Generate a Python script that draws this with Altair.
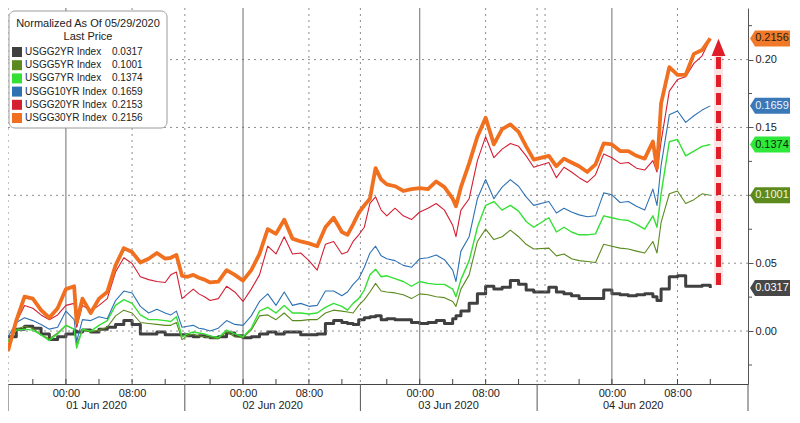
import altair as alt
import pandas as pd

FONT = "Liberation Sans"

# ---------------- data ----------------
# hours from 01 Jun 2020 00:00
hours = [-7, -6, -5, -4, -3, -2, -1, 0, 1, 1.3, 2, 3, 4, 5, 6, 7, 8, 9, 10, 11, 12, 13, 14,
         15, 16, 17, 18, 19, 20, 21, 22, 23, 24, 25,
         26, 27, 28, 29, 30, 31, 32, 33, 34, 35, 36,
         37, 38, 39, 40, 41, 42, 43, 44, 45, 46, 47, 48, 49, 50, 51, 52, 52.4,
         53, 54, 55, 56, 57, 58, 59, 60, 61, 62,
         64, 65, 66, 67, 68, 69, 70, 71, 72, 73, 74, 75, 76, 77, 77.5,
         78, 79, 80, 81, 82, 83, 84]

names = ["USGG2YR Index", "USGG5YR Index", "USGG7YR Index",
         "USGG10YR Index", "USGG20YR Index", "USGG30YR Index"]
last_price = ["0.0317", "0.1001", "0.1374", "0.1659", "0.2153", "0.2156"]
colors = ["#404040", "#5b8a1e", "#33e033", "#2f72b4", "#d41f33", "#f07020"]
line_widths = [3.0, 1.1, 1.4, 1.1, 1.1, 3.8]
step_series = ["USGG2YR Index"]

usgg2 = [-0.0042, 0.0014, 0.0035, 0.0021, -0.0021, -0.0063, -0.0042, -0.0021, 0.0000,
         -0.0007,
         0.0007, -0.0007, 0.0014, 0.0028, 0.0049, 0.0077, 0.0049, -0.0021, -0.0021, -0.0007, -0.0028, -0.0028, -0.0028,
         -0.0028, -0.0035, -0.0042, -0.0035, -0.0042, -0.0049, -0.0042, -0.0014, -0.0035, -0.0049, -0.0042,
         -0.0021, -0.0007, -0.0021, -0.0007, -0.0007, -0.0028, -0.0028, -0.0021, 0.0056, 0.0077, 0.0063,
         0.0056, 0.0049, 0.0084, 0.0098, 0.0105, 0.0112, 0.0084, 0.0091, 0.0084, 0.0084, 0.0063, 0.0056, 0.0063, 0.0077, 0.0056, 0.0091,
         0.0112,
         0.0147, 0.0204, 0.0274, 0.0330, 0.0309, 0.0323, 0.0372, 0.0344, 0.0302, 0.0288,
         0.0323, 0.0288, 0.0274, 0.0260, 0.0239, 0.0239, 0.0239, 0.0302, 0.0274, 0.0267, 0.0260, 0.0267, 0.0274, 0.0253,
         0.0225,
         0.0309, 0.0400, 0.0407, 0.0330, 0.0330, 0.0337, 0.0317]

usgg5 = [-0.0077, 0.0014, 0.0035, 0.0021, -0.0028, -0.0056, -0.0014, 0.0042, 0.0014,
         -0.0098,
         0.0007, -0.0007, 0.0007, 0.0028, 0.0112, 0.0154, 0.0133, 0.0063, 0.0056, 0.0049, 0.0042, 0.0042, 0.0063,
         -0.0063, -0.0035, -0.0021, -0.0035, -0.0042, -0.0049, -0.0056, -0.0007, -0.0042, -0.0049, 0.0007,
         0.0112, 0.0119, 0.0084, 0.0133, 0.0077, 0.0077, 0.0084, 0.0084, 0.0133, 0.0154, 0.0147,
         0.0140, 0.0133, 0.0189, 0.0232, 0.0288, 0.0351, 0.0295, 0.0288, 0.0281, 0.0267, 0.0239, 0.0274, 0.0267, 0.0253, 0.0246, 0.0218,
         0.0182,
         0.0309, 0.0414, 0.0660, 0.0751, 0.0674, 0.0695, 0.0744, 0.0695, 0.0639, 0.0604,
         0.0611, 0.0554, 0.0568, 0.0533, 0.0519, 0.0512, 0.0505, 0.0639, 0.0625, 0.0611, 0.0604, 0.0589, 0.0575, 0.0660,
         0.0575,
         0.0800, 0.1011, 0.1032, 0.0940, 0.0968, 0.1011, 0.1001]

usgg7 = [-0.0077, 0.0007, 0.0014, 0.0007, -0.0028, -0.0070, -0.0021, 0.0042, 0.0014,
         -0.0126,
         0.0014, 0.0000, 0.0042, 0.0077, 0.0189, 0.0232, 0.0204, 0.0119, 0.0084, 0.0084, 0.0077, 0.0070, 0.0105,
         -0.0042, -0.0021, -0.0007, -0.0014, -0.0021, -0.0035, -0.0049, 0.0007, -0.0021, -0.0042, 0.0021,
         0.0147, 0.0175, 0.0133, 0.0189, 0.0133, 0.0133, 0.0126, 0.0133, 0.0175, 0.0204, 0.0182,
         0.0154, 0.0204, 0.0239, 0.0302, 0.0414, 0.0456, 0.0400, 0.0407, 0.0386, 0.0365, 0.0330, 0.0365, 0.0351, 0.0344, 0.0344, 0.0309,
         0.0253,
         0.0379, 0.0519, 0.0765, 0.0926, 0.0954, 0.0891, 0.0926, 0.0884, 0.0807, 0.0765,
         0.0835, 0.0730, 0.0765, 0.0730, 0.0709, 0.0709, 0.0716, 0.0849, 0.0835, 0.0821, 0.0814, 0.0786, 0.0751, 0.0849,
         0.0765,
         0.1011, 0.1396, 0.1411, 0.1291, 0.1326, 0.1361, 0.1374]

usgg10 = [-0.0042, 0.0063, 0.0098, 0.0077, 0.0049, 0.0014, 0.0028, 0.0147, 0.0084,
          -0.0077,
          0.0084, 0.0077, 0.0105, 0.0091, 0.0225, 0.0295, 0.0281, 0.0182, 0.0133, 0.0161, 0.0133, 0.0119, 0.0147,
          0.0028, 0.0035, 0.0042, 0.0021, 0.0014, 0.0000, 0.0021, 0.0077, 0.0049, 0.0042, 0.0112,
          0.0218, 0.0274, 0.0189, 0.0288, 0.0189, 0.0204, 0.0182, 0.0189, 0.0295, 0.0295, 0.0260,
          0.0288, 0.0344, 0.0386, 0.0470, 0.0575, 0.0625, 0.0554, 0.0533, 0.0519, 0.0484, 0.0470, 0.0533, 0.0540, 0.0561, 0.0526, 0.0449,
          0.0365,
          0.0589, 0.0695, 0.0975, 0.1116, 0.0975, 0.1060, 0.1116, 0.1067, 0.0989, 0.0926,
          0.0954, 0.0870, 0.0905, 0.0877, 0.0856, 0.0842, 0.0849, 0.1018, 0.1004, 0.0947, 0.0954, 0.0919, 0.0891, 0.1046,
          0.0926,
          0.1221, 0.1593, 0.1621, 0.1537, 0.1586, 0.1628, 0.1659]

usgg20 = [-0.0112, 0.0063, 0.0189, 0.0168, 0.0119, 0.0084, 0.0119, 0.0189, 0.0204,
          0.0028,
          0.0189, 0.0147, 0.0189, 0.0239, 0.0435, 0.0540, 0.0498, 0.0400, 0.0379, 0.0365, 0.0358, 0.0414, 0.0435,
          0.0239, 0.0274, 0.0309, 0.0274, 0.0253, 0.0225, 0.0239, 0.0330, 0.0288, 0.0218, 0.0309,
          0.0414, 0.0625, 0.0568, 0.0695, 0.0568, 0.0575, 0.0519, 0.0449, 0.0639, 0.0660, 0.0568,
          0.0582, 0.0660, 0.0709, 0.0765, 0.0940, 0.0989, 0.0891, 0.0849, 0.0905, 0.0849, 0.0821, 0.0877, 0.0905, 0.0940, 0.0891, 0.0779,
          0.0695,
          0.0891, 0.0975, 0.1256, 0.1432, 0.1277, 0.1340, 0.1382, 0.1361, 0.1291, 0.1207,
          0.1242, 0.1130, 0.1207, 0.1172, 0.1130, 0.1095, 0.1151, 0.1305, 0.1277, 0.1235, 0.1242, 0.1200, 0.1186, 0.1256,
          0.1172,
          0.1396, 0.1768, 0.1853, 0.1874, 0.1972, 0.2028, 0.2153]

usgg30 = [-0.0147, 0.0077, 0.0253, 0.0239, 0.0154, 0.0098, 0.0168, 0.0309, 0.0330,
          0.0063,
          0.0239, 0.0133, 0.0239, 0.0288, 0.0484, 0.0611, 0.0582, 0.0505, 0.0533, 0.0575, 0.0533, 0.0540, 0.0561,
          0.0407, 0.0400, 0.0414, 0.0393, 0.0379, 0.0358, 0.0365, 0.0449, 0.0414, 0.0372, 0.0449,
          0.0568, 0.0751, 0.0716, 0.0821, 0.0681, 0.0660, 0.0646, 0.0625, 0.0765, 0.0835, 0.0730,
          0.0709, 0.0786, 0.0870, 0.0926, 0.0975, 0.1200, 0.1116, 0.1081, 0.1067, 0.1032, 0.1046, 0.1053, 0.1046, 0.1102, 0.1060, 0.0975,
          0.0919,
          0.1060, 0.1235, 0.1432, 0.1572, 0.1375, 0.1488, 0.1523, 0.1467, 0.1361, 0.1263,
          0.1291, 0.1214, 0.1270, 0.1242, 0.1214, 0.1172, 0.1228, 0.1382, 0.1375, 0.1326, 0.1326, 0.1291, 0.1270, 0.1396,
          0.1200,
          0.1677, 0.1944, 0.1888, 0.1888, 0.2042, 0.2070, 0.2156]

series_values = [usgg2, usgg5, usgg7, usgg10, usgg20, usgg30]

# right-side value tags
tag_series = ["USGG30YR Index", "USGG10YR Index", "USGG7YR Index", "USGG5YR Index", "USGG2YR Index"]
tag_fill = ["#f07a2a", "#3a78b8", "#2ee83a", "#5c8a1c", "#474747"]
tag_text_color = ["#2a1a10", "#eef4ff", "#0d2a0d", "#f4f4e0", "#ffffff"]

# axis annotations
day_hours = [0, 24, 48, 72]
day_labels = ["01 Jun 2020", "02 Jun 2020", "03 Jun 2020", "04 Jun 2020"]
day_label_hours = [3.7, 27.6, 51.5, 74.6]
hour_label_values = [0, 8, 24, 32, 48, 56, 72, 80]
dotted_hours = [-7, 8, 15.5, 32, 39.3, 56, 62.45, 63.5, 80]
session_hours = [-7, 15.5, 39.3, 62.45]
minor_tick_hours = [-4, 0, 4, 8, 12, 20, 24, 28, 32, 36, 44, 48, 52, 56, 60, 68, 72, 76, 80, 84]
grid_values = [0.0, 0.05, 0.10, 0.15, 0.20]
y_label_values = [0.0, 0.05, 0.15, 0.20]          # 0.10 sits under the 0.1001 tag
y_minor_values = [-0.025, 0.025, 0.075, 0.10, 0.125, 0.175, 0.225]

# red arrow
arrow_hour = [85]
arrow_from = [0.034]
arrow_to = [0.203]
arrow_head = [0.209]

# ---------------- build ----------------
rows = []
for name, vals, sw in zip(names, series_values, line_widths):
    assert len(vals) == len(hours), (name, len(vals), len(hours))
    for h, v in zip(hours, vals):
        rows.append({"series": name, "hour": h, "value": v, "sw": sw})
df = pd.DataFrame(rows)
df_step = df[df["series"].isin(step_series)]
df_lin = df[~df["series"].isin(step_series)]

last_vals = {n: v[-1] for n, v in zip(names, series_values)}
tag_df = pd.DataFrame({
    "series": tag_series,
    "value": [last_vals[s] for s in tag_series],
    "text": [last_price[names.index(s)] for s in tag_series],
    "fill": tag_fill,
    "tcolor": tag_text_color,
})

W, H = 740, 376
x_domain = [-7, 12, 20, 36, 44, 60, 68, 88.6]
x_anchor = [0, 161, 207, 342, 388, 523, 585, 758]
x_range = [a * W / 758 for a in x_anchor]
xs = alt.Scale(domain=x_domain, range=x_range, nice=False, zero=False)
ys = alt.Scale(domain=[-0.039, 0.238], nice=False, zero=False)
color_scale = alt.Scale(domain=names, range=colors)

one = pd.DataFrame({"a": [0]})

hgrid = alt.Chart(pd.DataFrame({"v": grid_values})).mark_rule(
    color="#8c8c8c", strokeDash=[2, 4], strokeWidth=1
).encode(y=alt.Y("v:Q", scale=ys, title=None))

vdotted = alt.Chart(pd.DataFrame({"h": dotted_hours})).mark_rule(
    color="#8c8c8c", strokeDash=[2, 4], strokeWidth=1
).encode(x=alt.X("h:Q", scale=xs, title=None))

vdays = alt.Chart(pd.DataFrame({"h": day_hours})).mark_rule(
    color="#6e6e6e", strokeWidth=1
).encode(x=alt.X("h:Q", scale=xs, title=None))

minor_ticks = alt.Chart(pd.DataFrame({"h": minor_tick_hours})).mark_rule(
    color="#444444", strokeWidth=1
).encode(x=alt.X("h:Q", scale=xs, title=None), y=alt.value(H - 5), y2=alt.value(H))

y_minor = alt.Chart(pd.DataFrame({"v": y_minor_values})).mark_rule(
    color="#555555", strokeWidth=1
).encode(y=alt.Y("v:Q", scale=ys, title=None), x=alt.value(W), x2=alt.value(W + 4))

session_sep = alt.Chart(pd.DataFrame({"h": session_hours})).mark_rule(
    color="#555555", strokeWidth=1
).encode(x=alt.X("h:Q", scale=xs, title=None), y=alt.value(H), y2=alt.value(H + 27))

right_ext = alt.Chart(one).mark_rule(color="#555555", strokeWidth=1).encode(
    x=alt.value(W), y=alt.value(H), y2=alt.value(H + 27)
)

x_axis = alt.Axis(values=hour_label_values,
                  labelExpr="datum.value % 24 == 0 ? '00:00' : '08:00'",
                  ticks=False, grid=False, domainColor="#444444",
                  labelFontSize=11, labelColor="#222222", labelPadding=3,
                  labelFont=FONT)
y_axis = alt.Axis(orient="right", values=y_label_values, format=".2f",
                  grid=False, tickSize=5, tickColor="#555555", domainColor="#555555",
                  labelFontSize=11, labelColor="#222222", labelPadding=2,
                  labelFont=FONT, labelOverlap=False)

lines_step = alt.Chart(df_step).mark_line(interpolate="step-after", strokeJoin="round").encode(
    x=alt.X("hour:Q", scale=xs, title=None, axis=x_axis),
    y=alt.Y("value:Q", scale=ys, title=None, axis=y_axis),
    color=alt.Color("series:N", scale=color_scale, legend=None),
    strokeWidth=alt.StrokeWidth("sw:Q", scale=None),
    detail="series:N",
)
lines = alt.Chart(df_lin).mark_line(strokeJoin="round").encode(
    x=alt.X("hour:Q", scale=xs, title=None),
    y=alt.Y("value:Q", scale=ys, title=None),
    color=alt.Color("series:N", scale=color_scale, legend=None),
    strokeWidth=alt.StrokeWidth("sw:Q", scale=None),
    detail="series:N",
)

tag_shape = "M-1,0 L-0.75,-0.4 L1,-0.4 L1,0.4 L-0.75,0.4 Z"
tags = alt.Chart(tag_df).mark_point(shape=tag_shape, filled=True, size=1600, opacity=1, strokeWidth=0).encode(
    x=alt.value(W + 22),
    y=alt.Y("value:Q", scale=ys, title=None),
    fill=alt.Fill("fill:N", scale=None),
)
tag_text = alt.Chart(tag_df).mark_text(fontSize=11, align="center", baseline="middle", font=FONT).encode(
    x=alt.value(W + 24),
    y=alt.Y("value:Q", scale=ys, title=None),
    text="text:N",
    fill=alt.Fill("tcolor:N", scale=None),
)

arrow_df = pd.DataFrame({"h": arrow_hour, "y0": arrow_from, "y1": arrow_to, "yh": arrow_head})
arrow_glow = alt.Chart(arrow_df).mark_rule(color="#e3202b", strokeWidth=9, opacity=0.12).encode(
    x=alt.X("h:Q", scale=xs, title=None), y=alt.Y("y0:Q", scale=ys, title=None), y2="y1:Q"
)
arrow = alt.Chart(arrow_df).mark_rule(color="#e01e2a", strokeWidth=5, strokeDash=[12, 6]).encode(
    x=alt.X("h:Q", scale=xs, title=None), y=alt.Y("y0:Q", scale=ys, title=None), y2="y1:Q"
)
arrow_tip = alt.Chart(arrow_df).mark_point(
    shape="M0,-1 L0.8,1 L-0.8,1 Z", filled=True, size=300, color="#e01e2a", opacity=1, strokeWidth=0
).encode(x=alt.X("h:Q", scale=xs, title=None), y=alt.Y("yh:Q", scale=ys, title=None))

dates = alt.Chart(pd.DataFrame({"h": day_label_hours, "label": day_labels})).mark_text(
    align="center", baseline="top", fontSize=11, font=FONT, color="#222222"
).encode(x=alt.X("h:Q", scale=xs, title=None), y=alt.value(H + 16), text="label:N")

main = alt.layer(lines_step, hgrid, vdotted, vdays, minor_ticks, y_minor, session_sep, right_ext,
                 lines, arrow_glow, arrow, arrow_tip, tags, tag_text, dates)

# ---------------- legend box ----------------
legend_df = pd.DataFrame({"series": names, "price": last_price, "row": list(range(len(names)))})
ly = alt.Y("row:Q", scale=alt.Scale(domain=[0, 5], range=[44, 110]), axis=None)

box = alt.Chart(one).mark_rect(fill="white", stroke="#9a9a9a", strokeWidth=1, cornerRadius=6).encode(
    x=alt.value(1), x2=alt.value(159), y=alt.value(3), y2=alt.value(120)
)
title1 = alt.Chart(one).mark_text(text="Normalized As Of 05/29/2020", fontSize=11, font=FONT,
                                  color="#222222", align="center", baseline="middle").encode(
    x=alt.value(80), y=alt.value(16))
title2 = alt.Chart(one).mark_text(text="Last Price", fontSize=11, font=FONT,
                                  color="#222222", align="center", baseline="middle").encode(
    x=alt.value(80), y=alt.value(29))
swatch = alt.Chart(legend_df).mark_square(size=100, filled=True, opacity=1).encode(
    x=alt.value(9), y=ly, color=alt.Color("series:N", scale=color_scale, legend=None)
)
lname = alt.Chart(legend_df).mark_text(fontSize=10, font=FONT, color="#222222",
                                       align="left", baseline="middle").encode(
    x=alt.value(17), y=ly, text="series:N")
lprice = alt.Chart(legend_df).mark_text(fontSize=10, font=FONT, color="#222222",
                                        align="left", baseline="middle").encode(
    x=alt.value(104), y=ly, text="price:N")

legend = alt.layer(box, title1, title2, swatch, lname, lprice)

chart = alt.layer(main, legend).resolve_scale(y="independent").properties(
    width=W, height=H,
    autosize=alt.AutoSizeParams(type="none"),
    padding={"left": 0, "top": 0, "right": 44, "bottom": 30},
).configure(font=FONT).configure_view(stroke=None)

chart.save("out.html", embed_options={"renderer": "svg", "actions": False})
